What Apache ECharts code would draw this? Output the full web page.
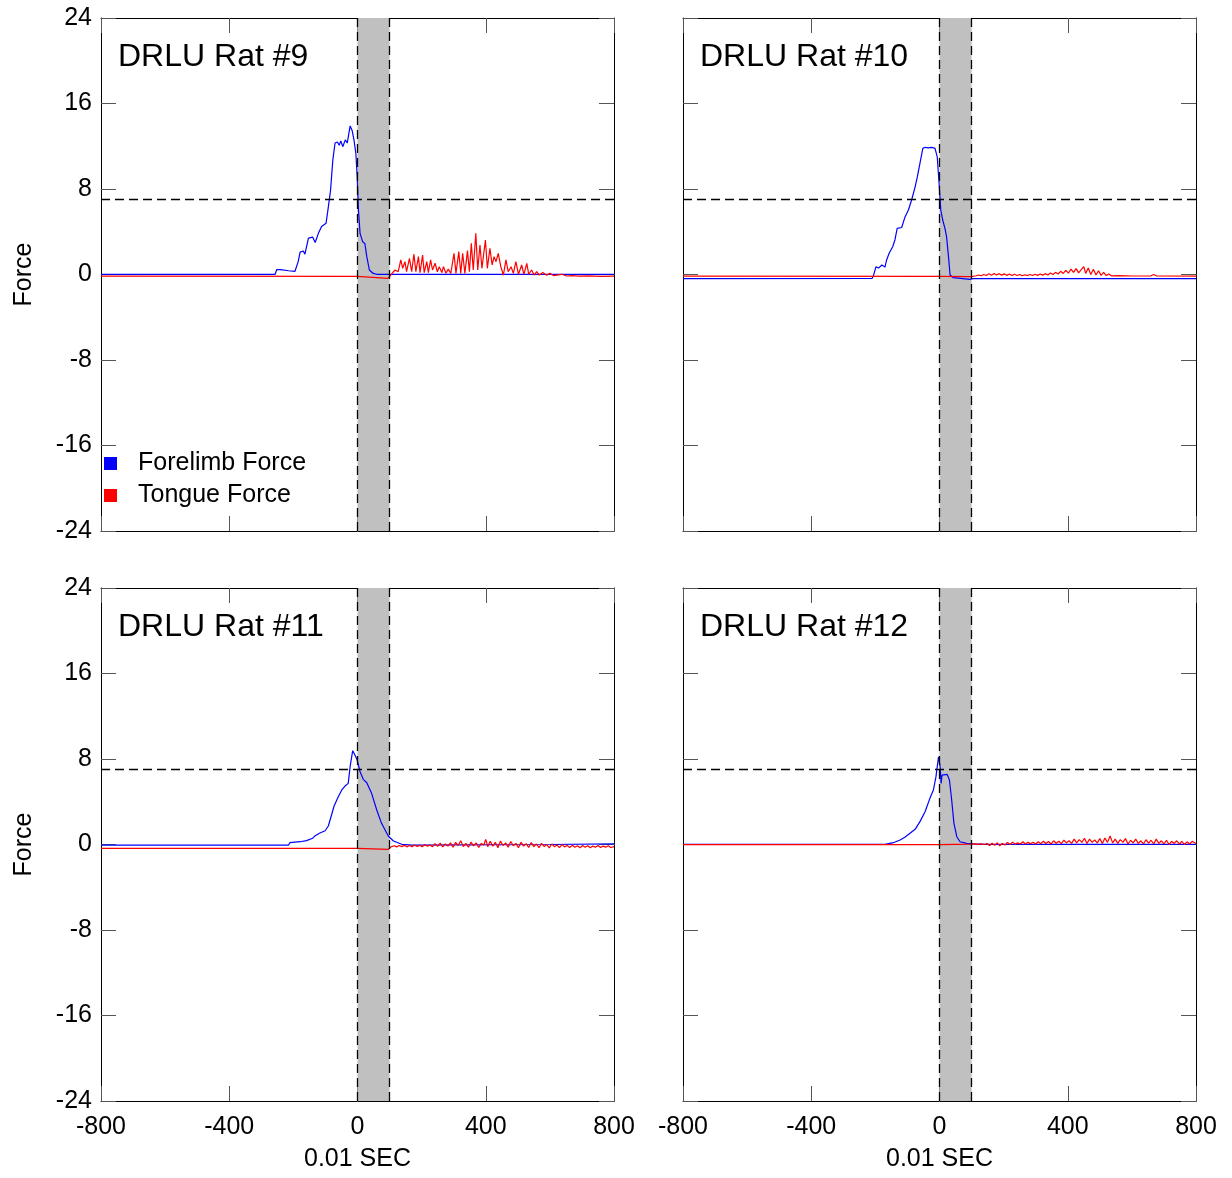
<!DOCTYPE html>
<html>
<head>
<meta charset="utf-8">
<title>DRLU Rat forces</title>
<script src="https://cdn.jsdelivr.net/npm/echarts@6/dist/echarts.min.js"></script>
<style>
  html, body { margin: 0; padding: 0; background: #fff; }
  #chart { width: 1232px; height: 1178px; }
</style>
</head>
<body>
<div id="chart"></div>
<script>
// x in units of 0.01 sec, y = force
const xTicks = [-800, -400, 0, 400, 800];
const yTicks = [-24, -16, -8, 0, 8, 16, 24];
const panelTitles = ['DRLU Rat #9', 'DRLU Rat #10', 'DRLU Rat #11', 'DRLU Rat #12'];
const seriesNames = ['Forelimb Force', 'Tongue Force'];
const bandRange = [0, 100];
const thresholdLevel = 7;

const forelimb9 = [[-800,0.02],[-257,0.02],[-252,0.45],[-240,0.45],[-215,0.35],[-195,0.3],[-185,1.2],[-179,2.1],[-169,2.2],[-164,1.9],[-153,3.4],[-140,3.5],[-132,3.0],[-122,3.85],[-112,4.5],[-98,4.8],[-91,6.3],[-84,7.9],[-77,10.7],[-70,12.3],[-63,12.4],[-57,12.1],[-52,12.5],[-46,11.96],[-38,12.6],[-32,12.3],[-23,13.9],[-17,13.5],[-11,12.6],[-5,11.3],[-1,9.15],[3,6.0],[8,3.85],[16,3.07],[23,2.9],[29,1.67],[37,0.42],[49,0.1],[60,0.02],[800,0.02]];
const tongue9 = [[-800,-0.15],[0,-0.17],[4,-0.3],[95,-0.36],[101,-0.27],[108,0.1],[117,0.42],[127,0.26],[135,1.36],[141,0.58],[148,1.2],[153,0.26],[162,1.51],[169,0.26],[176,1.9],[182,0.26],[190,1.67],[195,0.18],[203,1.82],[208,0.18],[216,1.2],[221,0.18],[228,1.36],[234,0.42],[242,1.05],[249,0.26],[255,0.73],[263,0.18],[268,0.73],[276,0.11],[283,0.5],[291,0.11],[301,1.98],[307,0.11],[316,2.14],[322,0.11],[328,1.98],[335,0.11],[343,2.23],[349,0.26],[355,2.92],[361,0.42],[369,3.85],[375,0.42],[382,2.76],[388,0.58],[399,3.23],[405,0.58],[413,2.45],[420,0.89],[426,1.67],[432,1.2],[439,1.98],[447,0.73],[455,-0.05],[463,1.36],[470,0.26],[479,0.73],[486,0.11],[494,1.2],[502,0.02],[512,0.89],[519,0.02],[528,1.05],[534,0.02],[543,0.42],[551,-0.05],[559,0.26],[567,-0.05],[578,0.18],[590,-0.08],[600,0.11],[611,-0.1],[637,0.02],[652,-0.14],[670,-0.1],[690,-0.16],[720,-0.12],[760,-0.17],[800,-0.15]];

const forelimb10 = [[-800,-0.38],[-210,-0.36],[-206,-0.11],[-198,0.73],[-190,0.6],[-180,0.89],[-170,0.7],[-165,1.36],[-157,1.98],[-146,2.6],[-139,3.23],[-132,4.32],[-118,4.4],[-108,5.35],[-97,6.03],[-87,6.97],[-76,8.2],[-69,9.15],[-61,10.4],[-52,11.8],[-44,11.9],[-35,11.85],[-24,11.9],[-14,11.8],[-7,11.0],[-2,8.84],[4,6.03],[10,5.1],[17,4.32],[22,3.54],[28,1.67],[33,-0.05],[43,-0.3],[95,-0.45],[105,-0.38],[800,-0.38]];
const tongue10 = [[-800,-0.15],[0,-0.18],[100,-0.2],[106,-0.08],[114,-0.12],[122,-0.05],[130,-0.12],[138,0.0],[146,-0.1],[154,0.08],[162,-0.08],[170,0.1],[178,-0.05],[186,0.08],[194,-0.06],[202,0.06],[210,-0.08],[218,0.05],[226,-0.1],[234,0.02],[242,-0.1],[250,0.0],[258,-0.12],[266,-0.02],[274,-0.1],[282,0.0],[290,-0.1],[298,0.02],[306,-0.08],[314,0.05],[322,-0.06],[330,0.08],[338,-0.04],[346,0.14],[354,0.0],[362,0.2],[370,0.05],[378,0.3],[386,0.1],[394,0.38],[402,0.12],[410,0.5],[418,0.2],[426,0.55],[434,0.15],[442,0.45],[450,0.73],[456,0.1],[464,0.6],[472,0.0],[480,0.5],[488,-0.05],[496,0.35],[504,-0.08],[512,0.2],[520,-0.1],[528,0.05],[536,-0.12],[560,-0.1],[600,-0.14],[660,-0.12],[668,0.0],[676,-0.12],[800,-0.15]];

const forelimb11 = [[-800,-0.05],[-215,-0.05],[-211,0.17],[-179,0.26],[-159,0.36],[-140,0.58],[-133,0.8],[-119,1.05],[-101,1.29],[-91,1.73],[-81,2.76],[-73,3.6],[-60,4.47],[-49,5.1],[-39,5.47],[-29,5.72],[-23,7.28],[-15,8.78],[-8,8.37],[-1,7.9],[8,6.81],[18,6.1],[29,5.78],[44,4.79],[60,3.23],[75,1.98],[96,0.8],[112,0.33],[138,0.02],[170,-0.05],[600,0.0],[800,0.05]];
const tongue11 = [[-800,-0.36],[0,-0.36],[4,-0.45],[96,-0.45],[101,-0.3],[106,-0.2],[115,-0.12],[122,-0.22],[130,-0.1],[138,-0.2],[146,-0.08],[154,-0.22],[162,-0.1],[170,-0.2],[178,-0.05],[186,-0.18],[194,-0.08],[202,-0.22],[210,0.0],[218,-0.16],[226,-0.04],[234,-0.2],[242,0.08],[250,-0.18],[258,0.12],[266,-0.22],[274,0.05],[282,-0.15],[290,0.15],[298,-0.25],[306,0.2],[314,-0.1],[322,0.36],[330,-0.2],[338,0.1],[346,-0.25],[354,0.22],[362,-0.12],[370,0.15],[378,-0.28],[386,0.1],[394,-0.05],[400,0.48],[406,-0.2],[414,0.3],[422,-0.15],[430,0.2],[438,-0.3],[446,0.32],[454,-0.1],[462,0.15],[470,-0.25],[478,0.28],[486,-0.12],[494,0.1],[502,-0.3],[510,0.22],[518,-0.15],[526,0.08],[534,-0.28],[542,0.18],[550,-0.2],[558,0.05],[566,-0.3],[574,0.1],[582,-0.18],[590,0.0],[598,-0.32],[606,0.05],[614,-0.2],[622,-0.05],[630,-0.3],[638,0.0],[646,-0.22],[654,-0.1],[662,-0.28],[670,-0.08],[678,-0.25],[686,-0.12],[694,-0.3],[702,-0.1],[710,-0.25],[718,-0.12],[726,-0.3],[734,-0.15],[742,-0.25],[750,-0.1],[758,-0.28],[766,-0.15],[774,-0.25],[782,-0.12],[790,-0.28],[800,-0.2]];

const forelimb12 = [[-800,0.02],[-170,0.02],[-165,0.05],[-144,0.17],[-123,0.42],[-108,0.67],[-92,1.05],[-76,1.42],[-61,2.14],[-45,3.07],[-30,4.32],[-19,5.1],[-11,6.35],[-3,8.2],[2,7.28],[5,5.72],[8,6.5],[14,6.66],[24,6.56],[31,6.03],[38,4.16],[45,1.98],[54,0.73],[64,0.26],[85,0.11],[106,0.05],[140,0.02],[800,0.02]];
const tongue12 = [[-800,-0.02],[0,-0.02],[100,0.03],[110,0.06],[120,0.02],[130,0.06],[140,0.0],[148,0.1],[156,-0.1],[164,0.12],[172,-0.08],[180,0.15],[188,-0.12],[196,0.1],[204,-0.05],[212,0.2],[220,0.0],[228,0.22],[236,0.02],[244,0.15],[252,0.05],[260,0.25],[268,0.05],[276,0.2],[284,0.08],[292,0.22],[300,0.05],[308,0.25],[316,0.08],[324,0.3],[332,0.1],[340,0.28],[348,0.05],[356,0.35],[364,0.12],[372,0.3],[380,0.08],[388,0.4],[396,0.15],[404,0.35],[412,0.1],[420,0.5],[428,0.15],[436,0.45],[444,0.2],[452,0.58],[460,0.1],[468,0.5],[476,0.2],[484,0.42],[492,0.15],[500,0.55],[508,0.1],[516,0.6],[524,0.2],[532,0.8],[540,0.15],[548,0.5],[556,0.1],[564,0.45],[572,0.2],[580,0.55],[588,0.05],[596,0.4],[604,0.15],[612,0.5],[620,0.1],[628,0.35],[636,0.05],[644,0.45],[652,0.12],[660,0.4],[668,0.05],[676,0.5],[684,0.1],[692,0.35],[700,0.05],[708,0.4],[716,0.0],[724,0.3],[732,0.1],[740,0.35],[748,0.05],[756,0.3],[764,0.0],[772,0.25],[780,0.05],[788,0.3],[800,0.1]];

const forelimbData = [forelimb9, forelimb10, forelimb11, forelimb12];
const tongueData = [tongue9, tongue10, tongue11, tongue12];

const FONT = '"Liberation Sans", Arial, sans-serif';
const panels = [
  { left: 101, top: 18 },
  { left: 683, top: 18 },
  { left: 101, top: 588 },
  { left: 683, top: 588 }
];

const grids = [], xAxes = [], yAxes = [], series = [], titles = [];

panels.forEach((p, i) => {
  const isBottom = i >= 2;
  const isLeft = i % 2 === 0;
  grids.push({ left: p.left, top: p.top, width: 513, height: 513 });

  const baseAxis = {
    gridIndex: i,
    type: 'value',
    axisLine: { show: true, onZero: false, lineStyle: { color: '#000', width: 1 } },
    axisTick: { show: true, inside: true, length: 15, lineStyle: { color: '#555' } },
    splitLine: { show: false },
    axisLabel: { show: false }
  };

  xAxes.push(Object.assign({}, baseAxis, {
    position: 'bottom', min: xTicks[0], max: xTicks[xTicks.length - 1], interval: 400,
    axisLabel: { show: isBottom, color: '#000', fontFamily: FONT, fontSize: 25, margin: 14 },
    name: isBottom ? '0.01 SEC' : '',
    nameLocation: 'middle', nameGap: 46,
    nameTextStyle: { color: '#000', fontFamily: FONT, fontSize: 25 }
  }));
  xAxes.push(Object.assign({}, baseAxis, {
    position: 'top', min: xTicks[0], max: xTicks[xTicks.length - 1], interval: 400
  }));

  yAxes.push(Object.assign({}, baseAxis, {
    position: 'left', min: yTicks[0], max: yTicks[yTicks.length - 1], interval: 8,
    axisLabel: { show: isLeft, color: '#000', fontFamily: FONT, fontSize: 25, margin: 9,
      verticalAlign: 'middle', padding: [3, 0, 0, 0] },
    name: isLeft ? 'Force' : '',
    nameLocation: 'middle', nameGap: 64,
    nameTextStyle: { color: '#000', fontFamily: FONT, fontSize: 25 }
  }));
  yAxes.push(Object.assign({}, baseAxis, {
    position: 'right', min: yTicks[0], max: yTicks[yTicks.length - 1], interval: 8
  }));

  const xi = i * 2, yi = i * 2;

  // grey band
  series.push({
    type: 'line', xAxisIndex: xi, yAxisIndex: yi, data: [], z: 1, silent: true,
    markArea: {
      silent: true,
      itemStyle: { color: '#c0c0c0' },
      data: [[{ xAxis: bandRange[0] }, { xAxis: bandRange[1] }]]
    }
  });
  // dashed guides
  series.push({
    type: 'line', xAxisIndex: xi, yAxisIndex: yi, data: [], z: 2, silent: true,
    markLine: {
      silent: true, symbol: ['none', 'none'],
      label: { show: false },
      lineStyle: { color: '#000', width: 1.3, type: [9, 5] },
      emphasis: { disabled: true },
      data: [{ xAxis: bandRange[0] }, { xAxis: bandRange[1] }, { yAxis: thresholdLevel }]
    }
  });

  series.push({
    name: seriesNames[0], type: 'line', xAxisIndex: xi, yAxisIndex: yi, z: 3,
    data: forelimbData[i], showSymbol: false, symbol: 'none',
    lineStyle: { color: '#0000ff', width: 1.2 }, itemStyle: { color: '#0000ff' }
  });
  series.push({
    name: seriesNames[1], type: 'line', xAxisIndex: xi, yAxisIndex: yi, z: 4,
    data: tongueData[i], showSymbol: false, symbol: 'none',
    lineStyle: { color: '#ff0000', width: 1.2 }, itemStyle: { color: '#ff0000' }
  });

  titles.push({
    text: panelTitles[i],
    left: p.left + 17, top: p.top + 23, padding: 0,
    textStyle: { color: '#000', fontFamily: FONT, fontSize: 32, fontWeight: 'normal' }
  });
});

const chart = echarts.init(document.getElementById('chart'));
chart.setOption({
  animation: false,
  backgroundColor: '#fff',
  title: titles,
  legend: {
    data: seriesNames,
    orient: 'vertical',
    left: 104, top: 451, padding: 0,
    icon: 'rect', itemWidth: 13, itemHeight: 13, itemGap: 7,
    selectedMode: false,
    textStyle: { color: '#000', fontFamily: FONT, fontSize: 25, lineHeight: 25, padding: [0, 0, 0, 16] }
  },
  grid: grids,
  xAxis: xAxes,
  yAxis: yAxes,
  series: series
});
</script>
</body>
</html>
